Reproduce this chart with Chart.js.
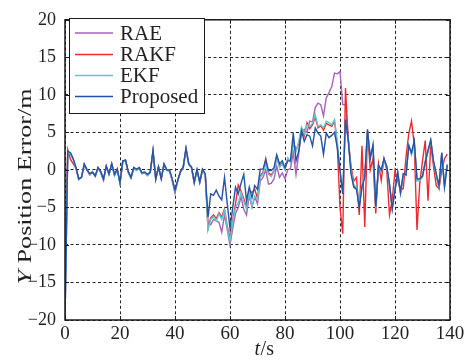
<!DOCTYPE html>
<html>
<head>
<meta charset="utf-8">
<script src="https://cdn.jsdelivr.net/npm/chart.js@4/dist/chart.umd.min.js"></script>
<style>
html,body{margin:0;padding:0;background:#fff;}
#wrap{width:469px;height:364px;position:relative;}
</style>
</head>
<body>
<div id="wrap"><canvas id="c" width="469" height="364"></canvas></div>
<script>
// time axis (s)
const times = [0,1,2,3,4,5,6,7,8,9,10,11,12,13,14,15,16,17,18,19,20,21,22,23,24,25,26,27,28,29,30,31,32,33,34,35,36,37,38,39,40,41,42,43,44,45,46,47,48,49,50,51,52,53,54,55,56,57,58,59,60,61,62,63,64,65,66,67,68,69,70,71,72,73,74,75,76,77,78,79,80,81,82,83,84,85,86,87,88,89,90,91,92,93,94,95,96,97,98,99,100,101,102,103,104,105,106,107,108,109,110,111,112,113,114,115,116,117,118,119,120,121,122,123,124,125,126,127,128,129,130,131,132,133,134,135,136,137,138,139];

const seriesNames = ["RAE", "RAKF", "EKF", "Proposed"];

const raeValues = [-20,2.4,2.2,1.4,0.3,-1.3,-1.0,0.7,0.0,-0.7,-0.3,-0.8,0.3,-0.4,-1.4,0.5,-0.6,0.8,-0.7,0.1,
-1.8,1.1,1.3,-0.3,-1.1,0.3,0.0,0.3,-0.5,-0.4,-0.7,-0.3,2.5,-1.3,0.4,-1.2,0.7,0.0,-0.1,-1.5,
-3.1,-1.4,-0.3,0.3,2.8,0.8,0.3,-1.8,0.0,-1.7,0.0,-0.6,-7.0,-7.3,-6.6,-6.8,-7.0,-8.3,-6.0,-8.0,
-10.0,-7.8,-5.8,-5.0,-3.6,-5.2,-6.0,-3.4,-5.0,-3.6,-4.5,-1.5,-1.0,0.0,-1.9,-1.8,-1.2,0.5,-1.0,-0.4,
-1.2,0.0,0.2,2.3,-0.6,2.2,5.0,5.4,5.0,6.5,6.4,8.3,8.9,8.7,7.2,9.6,10.3,11.1,12.9,12.8,
13.1,8.7,8.7,4.2,-0.2,-2.1,-2.4,-4.7,-2.1,-0.9,5.1,1.7,3.1,-5.0,0.5,-0.1,1.4,0.4,-2.0,-5.1,
-2.6,-0.4,-3.1,-0.7,-0.6,3.3,2.1,3.7,-1.4,-1.3,-0.9,1.1,2.5,3.9,1.1,-0.7,-2.3,2.2,-2.1,0.7];

const rakfValues = [-12,2.7,1.4,0.8,0.2,-1.2,-1.0,0.7,0.0,-0.6,-0.3,-0.8,0.3,-0.3,-1.3,0.5,-0.6,0.8,-0.7,0.1,
-1.7,1.1,1.3,-0.3,-1.0,0.3,0.0,0.3,-0.4,-0.3,-0.7,-0.3,2.5,-1.2,0.4,-1.1,0.7,0.0,-0.1,-1.3,
-2.8,-1.4,-0.2,0.4,2.8,0.8,0.3,-1.6,0.0,-1.6,0.0,-0.6,-7.8,-6.4,-6.0,-6.5,-5.7,-6.3,-5.2,-7.5,
-9.2,-6.8,-4.5,-2.0,-2.8,-3.8,-5.0,-2.8,-3.0,-2.6,-3.8,-0.8,-0.3,1.5,-0.4,-0.7,-0.1,1.8,0.5,0.9,
0.1,1.5,1.1,3.8,2.6,3.5,5.4,4.5,6.3,5.5,6.0,7.0,5.6,5.9,5.3,6.2,6.0,5.8,6.5,3.5,
-5.0,-8.5,10.9,4.0,0.5,-1.5,-1.0,-6.0,3.2,-7.6,5.2,0.0,1.5,-5.8,0.8,-1.4,1.5,0.0,-6.0,-4.0,
-0.1,-1.5,-2.7,-2.5,1.7,4.8,6.5,3.4,-8.0,-1.8,1.2,3.9,-4.1,3.4,0.5,-2.1,-2.5,-0.1,1.5,2.1];

const ekfValues = [-20,2.3,2.2,1.3,0.2,-1.3,-0.9,0.6,0.1,-0.6,-0.2,-0.9,0.2,-0.3,-1.3,0.4,-0.6,0.7,-0.8,0.0,
-1.8,1.0,1.2,-0.4,-1.1,0.2,-0.1,0.2,-0.5,-0.4,-0.8,-0.4,2.4,-1.3,0.3,-1.0,0.6,-0.1,-0.2,-1.4,
-2.9,-1.5,-0.3,0.3,2.7,0.7,0.2,-1.7,-0.1,-1.7,-0.1,-0.7,-8.0,-6.6,-6.2,-6.8,-5.9,-6.6,-5.4,-7.8,
-9.5,-7.0,-5.0,-4.4,-3.0,-4.2,-5.2,-3.0,-4.8,-3.5,-4.0,-1.0,-0.5,0.8,-0.6,-0.9,-0.2,1.6,0.3,0.8,
0.0,1.6,1.0,3.5,2.4,3.8,5.7,4.8,6.0,5.8,6.2,7.4,5.8,6.0,5.6,6.5,6.3,6.0,6.7,3.8,
0.0,-3.0,6.0,4.2,0.0,-2.0,-2.3,-4.5,-2.0,-0.8,5.0,1.8,3.0,-5.1,0.4,-0.2,1.3,0.4,-2.1,-5.0,
-2.5,-0.5,-3.2,-0.8,-0.6,3.4,2.0,3.6,-1.5,-1.4,-1.0,1.2,2.4,3.8,1.0,-0.8,-2.4,2.1,-2.0,0.8];

const proposedValues = [-20,2.5,2.3,1.5,0.3,-1.2,-1.0,0.8,0.0,-0.5,-0.3,-0.8,0.3,-0.2,-1.2,0.5,-0.5,0.8,-0.6,0.1,
-1.7,1.2,1.3,-0.2,-1.0,0.3,0.1,0.3,-0.4,-0.3,-0.6,-0.3,2.6,-1.2,0.4,-1.2,0.8,0.0,0.0,-1.2,
-2.7,-1.4,-0.2,0.4,2.9,0.8,0.4,-1.6,0.0,-1.6,0.1,-0.5,-6.3,-3.2,-3.4,-2.7,-3.5,-4.0,-1.0,-4.5,
-7.8,-5.0,-2.3,-3.2,-1.8,-0.6,-4.1,-2.3,-3.7,-2.1,-2.6,0.1,0.1,1.3,-0.1,-0.1,0.3,2.0,0.8,1.2,
0.3,1.2,1.2,4.9,1.2,2.5,5.2,3.8,4.7,4.5,3.2,5.6,4.9,4.5,2.1,4.9,4.3,4.6,5.0,3.0,
-0.1,-3.2,6.7,4.0,-0.5,-2.3,-2.6,-5.0,-2.3,-1.0,5.4,1.5,3.4,-4.9,0.6,0.0,1.5,0.5,-1.9,-5.2,
-2.7,-0.3,-3.0,-0.5,-0.7,3.2,2.3,3.9,-1.2,-1.2,-0.8,1.0,2.6,4.0,1.2,-0.5,-2.1,2.3,-2.3,0.6];

const xTicks = [0,20,40,60,80,100,120,140];
const yTicks = [-20,-15,-10,-5,0,5,10,15,20];

const colors = ["#a862b6", "#ee2a30", "#5ec8d2", "#2452a6"];
const allValues = [raeValues, rakfValues, ekfValues, proposedValues];
const drawOrder = [3, 2, 1, 0];

const FONT = "'Liberation Serif', 'Times New Roman', serif";

function toPoints(vals){ return times.map((t,i)=>({x:t, y:vals[i]})); }

const datasets = seriesNames.map((name,i)=>({
  label: name,
  data: toPoints(allValues[i]),
  borderColor: colors[i],
  backgroundColor: colors[i],
  borderWidth: 1.4,
  pointRadius: 0,
  tension: 0,
  fill: false,
  order: drawOrder[i]
}));

function fmt(v){ return v < 0 ? "\u2212" + Math.abs(v) : String(v); }

const framePlugin = {
  id: "frame",
  afterDraw(chart){
    const ctx = chart.ctx;
    const a = chart.chartArea;
    const xs = chart.scales.x, ys = chart.scales.y;
    ctx.save();
    // box
    ctx.strokeStyle = "#1a1a1a";
    ctx.lineWidth = 1.5;
    ctx.strokeRect(a.left, a.top, a.right - a.left, a.bottom - a.top);
    // inner ticks
    ctx.lineWidth = 1;
    ctx.beginPath();
    xTicks.forEach(t=>{
      const px = Math.round(xs.getPixelForValue(t)) + 0.5;
      ctx.moveTo(px, a.bottom); ctx.lineTo(px, a.bottom - 4);
      ctx.moveTo(px, a.top); ctx.lineTo(px, a.top + 4);
    });
    yTicks.forEach(t=>{
      const py = Math.round(ys.getPixelForValue(t)) + 0.5;
      ctx.moveTo(a.left, py); ctx.lineTo(a.left + 4, py);
      ctx.moveTo(a.right, py); ctx.lineTo(a.right - 4, py);
    });
    ctx.stroke();

    // legend
    const lx = 69.5, ly = 18.5, lw = 135, lh = 95;
    ctx.fillStyle = "#fff";
    ctx.fillRect(lx, ly, lw, lh);
    ctx.strokeStyle = "#1a1a1a";
    ctx.lineWidth = 1;
    ctx.strokeRect(lx, ly, lw, lh);
    const rows = [33, 54.5, 75.5, 96.5];
    ctx.font = "21px " + FONT;
    ctx.textBaseline = "middle";
    ctx.textAlign = "left";
    seriesNames.forEach((n,i)=>{
      ctx.strokeStyle = colors[i];
      ctx.lineWidth = 1.6;
      ctx.beginPath();
      ctx.moveTo(75, rows[i]); ctx.lineTo(113, rows[i]);
      ctx.stroke();
      ctx.fillStyle = "#231f20";
      ctx.fillText(n, 120, rows[i] + 1);
    });

    // x title: t/s
    ctx.fillStyle = "#231f20";
    ctx.textBaseline = "alphabetic";
    const italic = "italic 20px " + FONT, normal = "20px " + FONT;
    ctx.font = italic; const w1 = ctx.measureText("t").width;
    ctx.font = normal; const w2 = ctx.measureText("/s").width;
    let sx = 264 - (w1 + w2) / 2;
    ctx.font = italic; ctx.fillText("t", sx, 355);
    ctx.font = normal; ctx.fillText("/s", sx + w1 + 0.5, 355);

    // y title: Y Position Error/m
    const it2 = "italic 19px " + FONT, no2 = "19px " + FONT;
    ctx.font = it2; const y1 = ctx.measureText("Y").width;
    ctx.font = no2; const y2 = ctx.measureText(" Position Error/m").width;
    const total = y1 + y2;
    const target = 196;
    const s = target / total;
    ctx.translate(31, 186.5);
    ctx.rotate(-Math.PI / 2);
    ctx.scale(s, 1);
    ctx.textAlign = "left";
    ctx.font = it2; ctx.fillText("Y", -total / 2, 0);
    ctx.font = no2; ctx.fillText(" Position Error/m", -total / 2 + y1, 0);
    ctx.restore();
  }
};

new Chart(document.getElementById("c"), {
  type: "line",
  data: { datasets },
  options: {
    responsive: false,
    animation: false,
    devicePixelRatio: 1,
    layout: { padding: { top: 18, right: 19, left: 0, bottom: 0 } },
    plugins: { legend: { display: false }, tooltip: { enabled: false } },
    scales: {
      x: {
        type: "linear", min: 0, max: 140,
        afterBuildTicks(scale){ scale.ticks = xTicks.map(v=>({value:v})); },
        afterFit(scale){ scale.height = 44; },
        grid: { color: "#222", lineWidth: 1, drawTicks: false },
        border: { display: false, dash: [3, 2.5] },
        ticks: { font: { family: FONT, size: 19 }, color: "#231f20", padding: 3, maxRotation: 0, callback: v => fmt(v) }
      },
      y: {
        type: "linear", min: -20, max: 20,
        afterBuildTicks(scale){ scale.ticks = yTicks.map(v=>({value:v})); },
        afterFit(scale){ scale.width = 65; },
        grid: { color: "#222", lineWidth: 1, drawTicks: false },
        border: { display: false, dash: [3, 2.5] },
        ticks: { font: { family: FONT, size: 18 }, color: "#231f20", padding: 9, callback: v => fmt(v) }
      }
    }
  },
  plugins: [framePlugin]
});
</script>
</body>
</html>
